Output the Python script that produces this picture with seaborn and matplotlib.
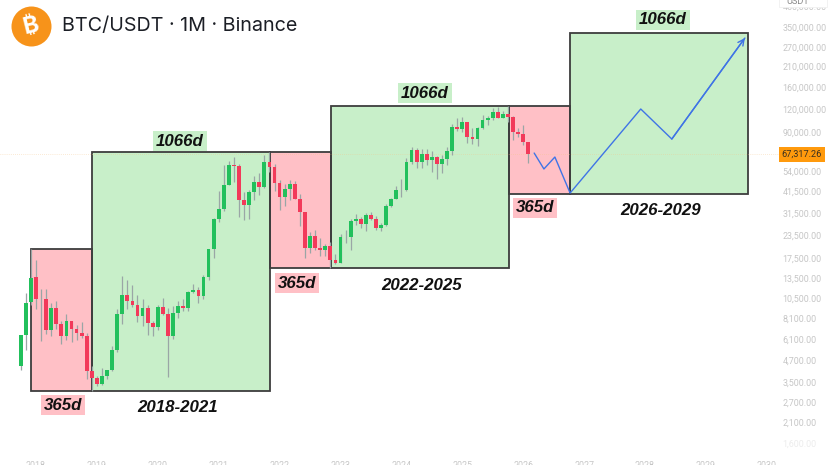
import matplotlib
matplotlib.use("Agg")
import matplotlib.pyplot as plt
import pandas as pd
import seaborn as sns
from matplotlib.patches import Rectangle
from matplotlib.ticker import FixedFormatter, FixedLocator, NullLocator

# Monthly candles, Oct 2017 to Feb 2026
opens = [4340, 6450, 9880, 13716, 10285, 10325, 6922, 9246, 7485, 6391, 7735, 7011, 6626, 6369, 4041,
         3701, 3434, 3814, 4102, 5321, 8555, 10854, 10084, 9600, 8289, 9140, 7541,
         7195, 9351, 8523, 6412, 8620, 9448, 9138, 11335, 11650, 10776, 13791, 19698,
         28923, 33092, 45134, 58739, 57697, 37253, 35045, 41461, 47100, 43820, 61299, 56950,
         46216, 38466, 43160, 45510, 37630, 31801, 19942, 23296, 20048, 19422, 20490, 17165,
         16541, 23125, 23142, 28465, 29233, 27211, 30472, 29232, 25940, 26962, 34639, 37723,
         42283, 42580, 61130, 71280, 60672, 67540, 62772, 64628, 58974, 63327, 70292, 96407,
         93576, 102429, 84350, 82550, 94172, 104591, 107146, 115764, 108246, 114048, 109608, 90360,
         87650, 78700]
highs = [6470, 11200, 19800, 17176, 11786, 11710, 9759, 10020, 7786, 8491, 7750, 7410, 7680, 6615, 4312,
         3810, 4198, 4140, 5600, 9074, 13970, 13147, 12325, 10905, 10370, 9513, 7750,
         9575, 10500, 9188, 9460, 10067, 10380, 11444, 12468, 12067, 14100, 19863, 29300,
         41950, 58352, 61844, 64854, 59500, 41330, 42448, 50500, 52920, 67000, 69000, 59053,
         47990, 45821, 48189, 47444, 40023, 31986, 24668, 25211, 22799, 20988, 21480, 18387,
         23960, 25250, 29184, 31000, 29820, 31431, 31804, 30244, 27483, 35280, 38450, 44700,
         48969, 64000, 73777, 72797, 71979, 71958, 70079, 65659, 66498, 73620, 99588, 108353,
         109588, 102500, 95000, 95758, 111980, 110530, 123218, 124474, 117900, 126200, 110000, 94600,
         97900, 79000]
lows = [4100, 5325, 9600, 9035, 6000, 6600, 6430, 6980, 5755, 6070, 5880, 6111, 6205, 3652, 3156,
        3349, 3373, 3670, 4070, 5173, 7440, 9071, 9320, 7710, 7300, 6515, 6435,
        6901, 8445, 3782, 6150, 8117, 8833, 8893, 11100, 9825, 10374, 13195, 17572,
        28130, 32296, 44950, 47044, 30000, 28805, 29278, 37332, 39600, 43283, 53256, 42000,
        32917, 34322, 37450, 37578, 26700, 17622, 18781, 19520, 18125, 18132, 15476, 16256,
        16499, 21351, 19549, 26942, 25811, 24800, 28861, 25166, 24900, 26538, 34097, 37629,
        38555, 41884, 59005, 56500, 56552, 58402, 53485, 49000, 52550, 58946, 66835, 90500,
        89256, 78258, 76606, 74508, 93377, 98200, 105100, 107350, 107270, 102000, 80600, 84400,
        75700, 60000]
closes = [6450, 9800, 13600, 10285, 10326, 6923, 9246, 7485, 6390, 7730, 7011, 6626, 6371, 4041, 3702,
          3434, 3813, 4103, 5320, 8555, 10855, 10085, 9600, 8289, 9140, 7541, 7195,
          9352, 8523, 6410, 8620, 9448, 9137, 11335, 11649, 10776, 13791, 19698, 28923,
          33092, 45135, 58740, 57694, 37253, 35045, 41461, 47100, 43824, 61299, 56950, 46216,
          38466, 43160, 45510, 37630, 31801, 19942, 23293, 20050, 19422, 20491, 17164, 16542,
          23125, 23141, 28465, 29233, 27210, 30472, 29232, 25940, 26962, 34639, 37723, 42283,
          42580, 61130, 71280, 60672, 67540, 62772, 64628, 58974, 63327, 70292, 96407, 93576,
          102429, 84350, 82550, 94172, 104591, 107146, 115764, 108246, 114048, 109608, 90360, 87650,
          78700, 67317]

# Projection path
path_years = [2026.18, 2026.34, 2026.52, 2026.77, 2027.93, 2028.44, 2029.64]
path_prices = [68400, 55650, 64960, 40750, 121000, 82000, 303500]

# Cycle boxes: left, right, low, high, colour key
box_left = [2017.92, 2018.92, 2021.84, 2022.84, 2025.77, 2026.77]
box_right = [2018.92, 2021.84, 2022.84, 2025.77, 2026.77, 2029.69]
box_low = [3156, 3156, 15476, 15476, 40150, 40150]
box_high = [19740, 69000, 69000, 126200, 126200, 323000]

price_ticks = [460000, 350000, 270000, 210000, 160000, 120000, 90000, 54000, 41500, 31500,
               23500, 17500, 13500, 10500, 8100, 6100, 4700, 3500, 2700, 2100, 1600]
year_ticks = list(range(2018, 2031))
last_price = 67317.26

GREEN = "#22c05c"
RED = "#f23a5a"
PINK = "#ffc0c6"
LIGHT_GREEN = "#c8efc9"
BLUE = "#3f74e6"
EDGE = "#3d3d3d"

sns.set_theme(style="white")
plt.rcParams["font.family"] = ["Roboto", "DejaVu Sans"]

df = pd.DataFrame({"open": opens, "high": highs, "low": lows, "close": closes})
df["year"] = 2017.75 + df.index / 12
df["up"] = df["close"] >= df["open"]

fig = plt.figure(figsize=(8.29, 4.65), dpi=100, facecolor="white")
ax = fig.add_axes([0, 10 / 465, 779 / 829, 455 / 465])
ax.set_yscale("log")
ax.set_xlim(2017.409, 2030.2)
ax.set_ylim(1369, 496600)
for s in ax.spines.values():
    s.set_visible(False)

# boxes: fill below the candles, dark outline just above the fill
for i in range(len(box_left)):
    face = PINK if i % 2 == 0 else LIGHT_GREEN
    w = box_right[i] - box_left[i]
    h = box_high[i] - box_low[i]
    ax.add_patch(Rectangle((box_left[i], box_low[i]), w, h, facecolor=face, edgecolor="none", zorder=1))
for i in range(len(box_left)):
    w = box_right[i] - box_left[i]
    h = box_high[i] - box_low[i]
    ax.add_patch(Rectangle((box_left[i], box_low[i]), w, h, fill=False, edgecolor=EDGE, linewidth=1.3, zorder=2))

ax.axhline(last_price, color="#f5c58a", linewidth=0.5, linestyle=(0, (1, 2)), alpha=0.7, zorder=2)

# candles
ax.vlines(df["year"], df["low"], df["high"], color="#9aa6a6", linewidth=0.9, zorder=3)
body_low = df[["open", "close"]].min(axis=1)
body_high = df[["open", "close"]].max(axis=1)
ax.bar(df["year"], body_high - body_low, bottom=body_low, width=0.062,
       color=[GREEN if u else RED for u in df["up"]], linewidth=0, zorder=4)

# projection with arrow head on the last leg
sns.lineplot(x=path_years, y=path_prices, ax=ax, sort=False, estimator=None, color=BLUE, linewidth=1.0, zorder=5)
ax.annotate("", xy=(path_years[-1], path_prices[-1]), xytext=(path_years[-2], path_prices[-2]),
            arrowprops=dict(arrowstyle="->", color=BLUE, lw=1.0, mutation_scale=11, shrinkA=0, shrinkB=0), zorder=5)

# axes
ax.yaxis.tick_right()
ax.yaxis.set_major_locator(FixedLocator(price_ticks))
ax.yaxis.set_major_formatter(FixedFormatter([f"{p:,.2f}" for p in price_ticks]))
ax.yaxis.set_minor_locator(NullLocator())
ax.xaxis.set_major_locator(FixedLocator(year_ticks))
ax.xaxis.set_major_formatter(FixedFormatter([str(y) for y in year_ticks]))
ax.xaxis.set_minor_locator(NullLocator())
ax.tick_params(axis="y", length=0, pad=2.6, labelsize=6.4, labelcolor="#c6c6c6")
ax.tick_params(axis="x", length=0, pad=4, labelsize=6.4, labelcolor="#c6c6c6")
ax.get_yticklabels()[-1].set_color("#ececec")

# last price tag
ax.annotate("67,317.26", xy=(1.0, last_price), xycoords=ax.get_yaxis_transform(), xytext=(2, 0),
            textcoords="offset points", ha="left", va="center", fontsize=6.6, color="#3a3020", zorder=6,
            annotation_clip=False, bbox=dict(boxstyle="square,pad=0.35", facecolor="#ff9a0d", edgecolor="none"))

# unit box at the top of the price scale, covers the upper half of the first tick
fig.add_artist(Rectangle((779 / 829, 1 - 7 / 465), 48 / 829, 8 / 465, transform=fig.transFigure, facecolor="white",
                         edgecolor="#f0f0f0", linewidth=0.6, zorder=9))
fig.text(786 / 829, 1 - 1 / 465, "USDT", fontsize=6.6, color="#8a8a8a", ha="left", va="center", zorder=10)

# header
ax.scatter([31], [26], s=(40 * 0.72) ** 2, color="#f7931a", linewidth=0, transform=None, zorder=7, clip_on=False)
ax.collections[-1].set_offsets([[31, 465 - 26]])
fig.text(31 / 829, 1 - 26 / 465, "\u20bf", fontsize=17, fontweight="bold", color="white", ha="center", va="center",
         rotation=14, family=["Inter", "Noto Sans", "Open Sans", "Lato", "Roboto", "DejaVu Sans"], zorder=8)
fig.text(62 / 829, 1 - 26 / 465, "BTC/USDT \u00b7 1M \u00b7 Binance", fontsize=14.2, color="#1c1f26", ha="left",
         va="center", family=["Inter", "DejaVu Sans"])

# annotations
tag_labels = ["365d", "365d", "365d", "1066d", "1066d", "1066d"]
tag_x = [63, 297, 535, 180, 425, 663]
tag_y = [405, 283, 208, 141, 93, 20]
for label, x, y in zip(tag_labels, tag_x, tag_y):
    color = PINK if label == "365d" else LIGHT_GREEN
    fig.text(x / 829, 1 - y / 465, label, fontsize=12.2, fontweight="bold", fontstyle="italic", color="#111111",
             family=["Liberation Sans", "DejaVu Sans"], ha="center", va="center",
             bbox=dict(boxstyle="square,pad=0.16", facecolor=color, edgecolor="none"))

range_labels = ["2018-2021", "2022-2025", "2026-2029"]
range_x = [178, 422, 661]
range_y = [407, 285, 210]
for label, x, y in zip(range_labels, range_x, range_y):
    fig.text(x / 829, 1 - y / 465, label, fontsize=12.2, fontweight="bold", fontstyle="italic", color="#111111",
             family=["Liberation Sans", "DejaVu Sans"], ha="center", va="center")

fig.savefig("out.png", dpi=100)
